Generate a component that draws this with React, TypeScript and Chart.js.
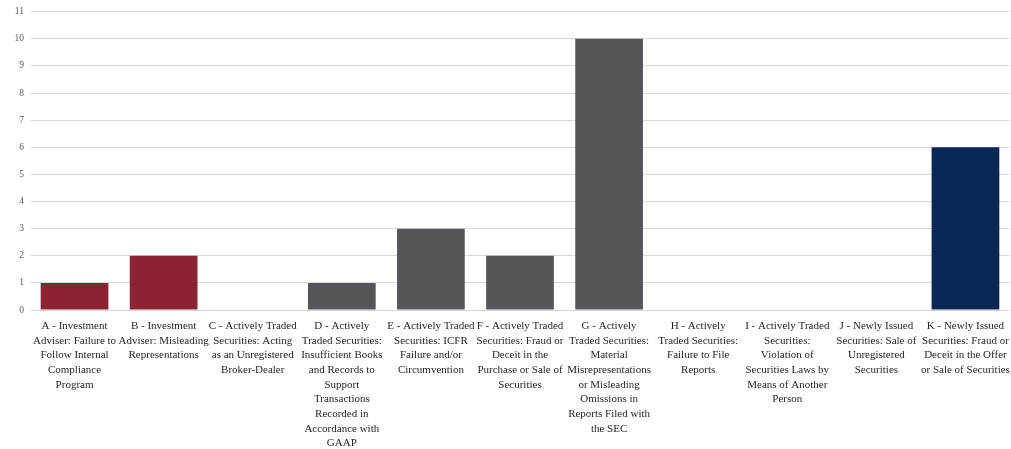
import React, { useEffect, useRef } from "react";
import { Chart, registerables } from "chart.js";

Chart.register(...registerables);

const categories: string[][] = [
  ["A - Investment", "Adviser: Failure to", "Follow Internal", "Compliance", "Program"],
  ["B - Investment", "Adviser: Misleading", "Representations"],
  ["C - Actively Traded", "Securities: Acting", "as an Unregistered", "Broker-Dealer"],
  ["D - Actively", "Traded Securities:", "Insufficient Books", "and Records to", "Support", "Transactions", "Recorded in", "Accordance with", "GAAP"],
  ["E - Actively Traded", "Securities: ICFR", "Failure and/or", "Circumvention"],
  ["F - Actively Traded", "Securities: Fraud or", "Deceit in the", "Purchase or Sale of", "Securities"],
  ["G - Actively", "Traded Securities:", "Material", "Misrepresentations", "or Misleading", "Omissions in", "Reports Filed with", "the SEC"],
  ["H - Actively", "Traded Securities:", "Failure to File", "Reports"],
  ["I - Actively Traded", "Securities:", "Violation of", "Securities Laws by", "Means of Another", "Person"],
  ["J - Newly Issued", "Securities: Sale of", "Unregistered", "Securities"],
  ["K - Newly Issued", "Securities: Fraud or", "Deceit in the Offer", "or Sale of Securities"],
];

const values: number[] = [1, 2, 0, 1, 3, 2, 10, 0, 0, 0, 6];
const barColors: string[] = [
  "#8B2332", "#8B2332", "#55555A", "#55555A", "#55555A", "#55555A",
  "#55555A", "#55555A", "#55555A", "#55555A", "#0A2853",
];
const yMax = 11;

export default function App() {
  const ref = useRef<HTMLCanvasElement | null>(null);
  useEffect(() => {
    document.body.style.margin = "0";
    const chart = new Chart(ref.current!, {
      type: "bar",
      data: {
        labels: categories,
        datasets: [
          {
            data: values,
            backgroundColor: barColors,
            categoryPercentage: 1,
            barPercentage: 0.76,
          },
        ],
      },
      options: {
        animation: false,
        responsive: true,
        maintainAspectRatio: false,
        layout: { padding: { top: 6, right: 1, left: 0, bottom: 0 } },
        plugins: { legend: { display: false }, tooltip: { enabled: false } },
        scales: {
          x: {
            grid: { display: false, drawTicks: false },
            border: { display: false },
            ticks: {
              autoSkip: false,
              maxRotation: 0,
              minRotation: 0,
              padding: 9,
              color: "#262626",
              font: { family: "'Liberation Serif', serif", size: 11, lineHeight: 1.33 },
            },
            afterFit: (s: any) => {
              s.height = 139;
              s.paddingLeft = 0;
              s.paddingRight = 0;
            },
          },
          y: {
            min: 0,
            max: yMax,
            ticks: {
              stepSize: 1,
              padding: 6,
              color: "#595959",
              font: { family: "'Liberation Serif', serif", size: 9.5 },
            },
            grid: { color: "#D9D9D9", drawTicks: false, lineWidth: 1 },
            border: { display: false },
            afterFit: (s: any) => {
              s.width = 30;
            },
          },
        },
      },
    });
    return () => chart.destroy();
  }, []);
  return (
    <div style={{ width: 1011, height: 449, position: "relative" }}>
      <canvas ref={ref} />
    </div>
  );
}
